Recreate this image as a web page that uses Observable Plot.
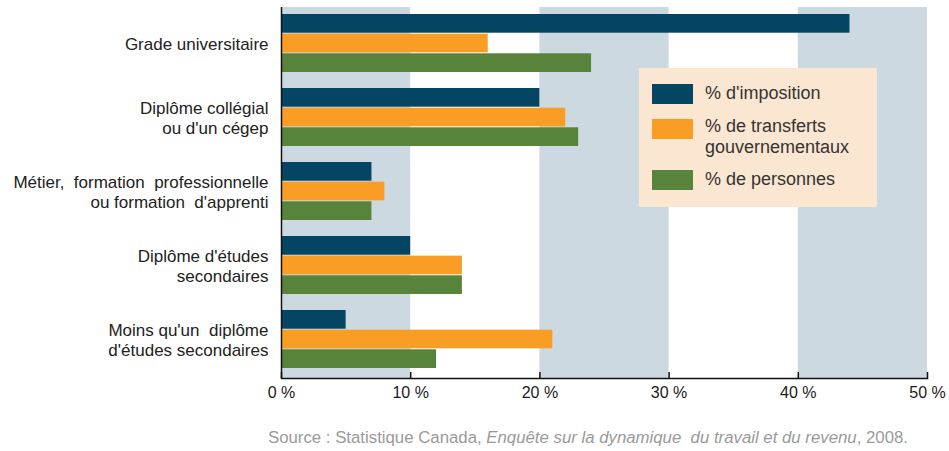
<!DOCTYPE html>
<html>
<head>
<meta charset="utf-8">
<script src="https://cdn.jsdelivr.net/npm/d3@7"></script>
<script src="https://cdn.jsdelivr.net/npm/@observablehq/plot@0.6"></script>
<style>
  html, body { margin: 0; padding: 0; background: #fff; }
  #wrap { position: relative; width: 949px; height: 451px; font-family: "Liberation Sans", Arial, sans-serif; }
  #legend { position: absolute; left: 639px; top: 68px; width: 238px; height: 139px; background: #fbe7d1; }
  #legend .sw { position: absolute; left: 13px; width: 41px; height: 20px; }
  #legend .lb { position: absolute; left: 66px; font-size: 18px; line-height: 21px; color: #333; white-space: nowrap; }
  #caption { position: absolute; right: 41px; top: 429px; font-size: 16.8px; line-height: 18px; color: #9a9a9a; white-space: pre; }
  svg text { white-space: pre; }
</style>
</head>
<body>
<div id="wrap">
  <div id="chart"></div>
  <div id="legend"></div>
  <div id="caption">Source : Statistique Canada, <i>Enquête sur la dynamique  du travail et du revenu</i>, 2008.</div>
</div>
<script>
// ---- data ----
const categories = [
  "Grade universitaire",
  "Diplôme collégial ou d'un cégep",
  "Métier, formation professionnelle ou formation d'apprenti",
  "Diplôme d'études secondaires",
  "Moins qu'un diplôme d'études secondaires"
];
const categoryLabels = [
  "Grade universitaire",
  "Diplôme collégial\nou d'un cégep",
  "Métier,  formation  professionnelle\nou formation  d'apprenti",
  "Diplôme d'études\nsecondaires",
  "Moins qu'un  diplôme\nd'études secondaires"
];
const seriesNames = ["% d'imposition", "% de transferts\ngouvernementaux", "% de personnes"];
const imposition = [44, 20, 7, 10, 5];
const transferts = [16, 22, 8, 14, 21];
const personnes  = [24, 23, 7, 14, 12];
const seriesValues = [imposition, transferts, personnes];
const seriesColors = ["#034563", "#f99d25", "#57833b"];
const xTicks = [0, 10, 20, 30, 40, 50];
const bandColor = "#cdd9e0";

// ---- layout ----
const width = 949, height = 420;
const marginTop = 7, marginBottom = 42;
const frameH = height - marginTop - marginBottom;
const yOpts = {type: "band", domain: categories, range: [14, 368], paddingInner: 0.22, paddingOuter: 0};
const bw = Plot.scale({y: yOpts}).bandwidth;
const gap = 1.2;
const sub = (bw + gap) / 3;

// shaded bands on alternate tick intervals
const bands = [];
for (let i = 0; i < xTicks.length - 1; i += 2) bands.push({x1: xTicks[i], x2: xTicks[i + 1]});

const marks = [
  Plot.rect(bands, {x1: "x1", x2: "x2", fill: bandColor})
];
seriesValues.forEach((vals, k) => {
  marks.push(Plot.barX(categories, {
    y: d => d,
    x: (d, i) => vals[i],
    fill: seriesColors[k],
    insetTop: k * sub,
    insetBottom: (2 - k) * sub
  }));
});
marks.push(
  Plot.ruleX([0], {stroke: "#111", strokeWidth: 1.5}),
  Plot.frame({anchor: "bottom", stroke: "#111", strokeWidth: 1.5}),
  Plot.tickX(xTicks, {x: d => d, insetTop: frameH - 6, stroke: "#111", strokeWidth: 1.5}),
  Plot.axisX(xTicks, {tickSize: 0, tickPadding: 8, tickFormat: d => d + " %", fontSize: 16, fill: "#1a1a1a"}),
  Plot.text(categories, {
    y: d => d,
    frameAnchor: "left",
    dx: -13,
    textAnchor: "end",
    text: (d, i) => categoryLabels[i],
    fontSize: 17,
    lineHeight: 1.18,
    fill: "#222"
  })
);

const chart = Plot.plot({
  width, height,
  marginTop, marginBottom, marginLeft: 281, marginRight: 22,
  style: {fontFamily: "'Liberation Sans', Arial, sans-serif", background: "transparent"},
  x: {domain: [0, 50]},
  y: {...yOpts, axis: null},
  marks
});
document.getElementById("chart").appendChild(chart);

// ---- legend ----
const legend = document.getElementById("legend");
const swTops = [16, 51, 102];
const lbTops = [15, 48, 101];
seriesNames.forEach((name, k) => {
  const sw = document.createElement("div");
  sw.className = "sw";
  sw.style.top = swTops[k] + "px";
  sw.style.background = seriesColors[k];
  legend.appendChild(sw);
  const lb = document.createElement("div");
  lb.className = "lb";
  lb.style.top = lbTops[k] + "px";
  lb.innerHTML = name.replace("\n", "<br>");
  legend.appendChild(lb);
});
</script>
</body>
</html>
